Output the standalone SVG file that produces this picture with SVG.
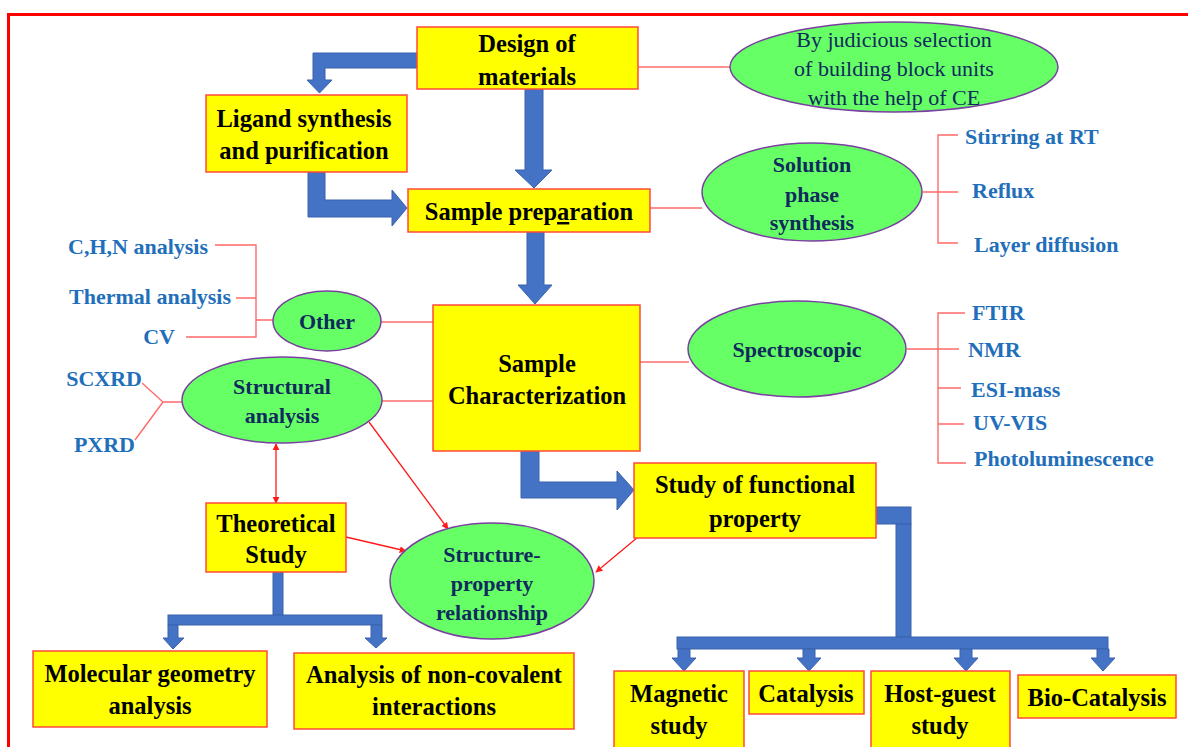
<svg xmlns="http://www.w3.org/2000/svg" width="1188" height="747" viewBox="0 0 1188 747">
<defs>
<style>
.box{fill:#ffff00;stroke:#ff4a3a;stroke-width:1.5}
.ell{fill:#66ff66;stroke:#7a3fa0;stroke-width:1.5}
.bt{font-family:"Liberation Serif",serif;font-weight:bold;font-size:24.5px;fill:#000;text-anchor:middle}
.et{font-family:"Liberation Serif",serif;font-weight:bold;font-size:22px;fill:#0f2a5c;text-anchor:middle}
.jt{font-family:"Liberation Serif",serif;font-size:22px;fill:#0f2a5c;text-anchor:middle}
.lt{font-family:"Liberation Serif",serif;font-weight:bold;font-size:22px;fill:#1f6fba}
.ln{fill:none;stroke:#ff6b6b;stroke-width:1.4}
.ra{fill:none;stroke:#ff1a1a;stroke-width:1.3}
.ba{fill:#4472c4;stroke:#3a62ad;stroke-width:1}
</style>
<marker id="ah" viewBox="0 0 10 10" refX="9" refY="5" markerWidth="7" markerHeight="7" orient="auto-start-reverse" markerUnits="userSpaceOnUse">
<path d="M0,0 L10,5 L0,10 z" fill="#ff1a1a"/>
</marker>
</defs>
<rect x="0" y="0" width="1188" height="747" fill="#fff"/>
<rect x="8.5" y="14.5" width="1200" height="800" fill="none" stroke="#ff0000" stroke-width="3"/>

<g id="connectors">
<polygon class="ba" points="417,53 313,53 313,80 307,80 319.5,93 332,80 325,80 325,68 417,68"/>
<polygon class="ba" points="308,172 325,172 325,200 392,200 392,190 407,208 392,226 392,217 308,217"/>
<polygon class="ba" points="525,89 543,89 543,170 552,170 534,188 515,170 525,170"/>
<polygon class="ba" points="527,232 544,232 544,285 552,285 535,304 518,285 527,285"/>
<polygon class="ba" points="521,451 539,451 539,482 617,482 617,471 634,490 617,510 617,498 521,498"/>
<rect class="ba" x="273" y="572" width="10" height="43"/>
<rect class="ba" x="168" y="615" width="214" height="10"/>
<polygon class="ba" points="168,625 178,625 178,638 184,638 173,649 163,638 168,638"/>
<polygon class="ba" points="371,625 382,625 382,638 387,638 376,648 365,638 371,638"/>
<rect class="ba" x="876" y="507" width="35" height="17"/>
<rect class="ba" x="896" y="524" width="15" height="113"/>
<rect class="ba" x="677" y="637" width="431" height="12"/>
<polygon class="ba" points="678,649 690,649 690,658 696,658 684,671 672,658 678,658"/>
<polygon class="ba" points="803,649 815,649 815,658 821,658 809,671 797,658 803,658"/>
<polygon class="ba" points="960,649 972,649 972,658 978,658 966,671 954,658 960,658"/>
<polygon class="ba" points="1097,649 1109,649 1109,658 1115,658 1103,671 1091,658 1097,658"/>
<line class="ln" x1="638" y1="67" x2="730" y2="67"/>
<line class="ln" x1="650" y1="208" x2="702" y2="208"/>
<path class="ln" d="M923,192 H938 M958,135 H938 V243 H958 M938,192 H958"/>
<line class="ln" x1="640" y1="362" x2="689" y2="362"/>
<path class="ln" d="M907,349 H959 M965,313 H938 V463 H966 M938,388 H961 M938,424 H964"/>
<path class="ln" d="M215,245 H256 V337 H186 M236,298 H256 M256,320 H273"/>
<line class="ln" x1="381" y1="322" x2="433" y2="322"/>
<path class="ln" d="M142,383 L163,402 L135,440 M163,402 H183"/>
<line class="ln" x1="382" y1="401" x2="433" y2="401"/>
<line class="ra" x1="276" y1="444" x2="276" y2="503" marker-start="url(#ah)" marker-end="url(#ah)"/>
<line class="ra" x1="346" y1="537" x2="406" y2="551" marker-end="url(#ah)"/>
<line class="ra" x1="369" y1="422" x2="448" y2="529" marker-end="url(#ah)"/>
<line class="ra" x1="644" y1="532" x2="596" y2="572" marker-end="url(#ah)"/>
</g>

<g id="design">
<rect class="box" x="417" y="27" width="221" height="62"/>
<text class="bt" x="527" y="52">Design of</text>
<text class="bt" x="527" y="85">materials</text>
</g>
<g id="judicious">
<ellipse class="ell" cx="894" cy="67" rx="164" ry="45"/>
<text class="jt" x="894" y="47">By judicious selection</text>
<text class="jt" x="894" y="76">of building block units</text>
<text class="jt" x="894" y="105">with the help of CE</text>
</g>
<g id="ligand">
<rect class="box" x="206" y="95" width="201" height="77"/>
<text class="bt" x="304" y="127">Ligand synthesis</text>
<text class="bt" x="304" y="159">and purification</text>
</g>
<g id="prep">
<rect class="box" x="408" y="189" width="242" height="43"/>
<text class="bt" x="529" y="220">Sample prep<tspan text-decoration="underline">a</tspan>ration</text>
</g>
<g id="solution">
<ellipse class="ell" cx="812" cy="192" rx="110" ry="49"/>
<text class="et" x="812" y="172">Solution</text>
<text class="et" x="812" y="202">phase</text>
<text class="et" x="812" y="230">synthesis</text>
</g>
<g id="sol-leaves">
<text class="lt" x="965" y="144">Stirring at RT</text>
<text class="lt" x="972" y="198">Reflux</text>
<text class="lt" x="974" y="252">Layer diffusion</text>
</g>
<g id="char">
<rect class="box" x="433" y="305" width="207" height="146"/>
<text class="bt" x="537" y="372">Sample</text>
<text class="bt" x="537" y="404">Characterization</text>
</g>
<g id="spectro">
<ellipse class="ell" cx="797" cy="349" rx="109" ry="48"/>
<text class="et" x="797" y="357">Spectroscopic</text>
</g>
<g id="spec-leaves">
<text class="lt" x="972" y="320">FTIR</text>
<text class="lt" x="968" y="357">NMR</text>
<text class="lt" x="971" y="397">ESI-mass</text>
<text class="lt" x="973" y="430">UV-VIS</text>
<text class="lt" x="974" y="466">Photoluminescence</text>
</g>
<g id="other">
<ellipse class="ell" cx="327" cy="321" rx="54" ry="30"/>
<text class="et" x="327" y="329">Other</text>
</g>
<g id="other-leaves">
<text class="lt" x="208" y="254" text-anchor="end">C,H,N analysis</text>
<text class="lt" x="231" y="304" text-anchor="end">Thermal analysis</text>
<text class="lt" x="175" y="344" text-anchor="end">CV</text>
</g>
<g id="structural">
<ellipse class="ell" cx="282" cy="400" rx="100" ry="43"/>
<text class="et" x="282" y="394">Structural</text>
<text class="et" x="282" y="423">analysis</text>
</g>
<g id="xrd-leaves">
<text class="lt" x="142" y="386" text-anchor="end">SCXRD</text>
<text class="lt" x="135" y="452" text-anchor="end">PXRD</text>
</g>
<g id="theoretical">
<rect class="box" x="206" y="503" width="140" height="69"/>
<text class="bt" x="276" y="532">Theoretical</text>
<text class="bt" x="276" y="563">Study</text>
</g>
<g id="structure-property">
<ellipse class="ell" cx="492" cy="581" rx="102" ry="58"/>
<text class="et" x="492" y="562">Structure-</text>
<text class="et" x="492" y="591">property</text>
<text class="et" x="492" y="620">relationship</text>
</g>
<g id="molecular">
<rect class="box" x="33" y="651" width="234" height="76"/>
<text class="bt" x="150" y="682">Molecular geometry</text>
<text class="bt" x="150" y="714">analysis</text>
</g>
<g id="noncovalent">
<rect class="box" x="294" y="653" width="280" height="76"/>
<text class="bt" x="434" y="683">Analysis of non-covalent</text>
<text class="bt" x="434" y="715">interactions</text>
</g>
<g id="functional">
<rect class="box" x="634" y="463" width="242" height="75"/>
<text class="bt" x="755" y="493">Study of functional</text>
<text class="bt" x="755" y="527">property</text>
</g>
<g id="magnetic">
<rect class="box" x="614" y="671" width="130" height="80"/>
<text class="bt" x="679" y="702">Magnetic</text>
<text class="bt" x="679" y="734">study</text>
</g>
<g id="catalysis">
<rect class="box" x="749" y="671" width="115" height="43"/>
<text class="bt" x="806" y="702">Catalysis</text>
</g>
<g id="hostguest">
<rect class="box" x="871" y="671" width="139" height="80"/>
<text class="bt" x="940" y="702">Host-guest</text>
<text class="bt" x="940" y="734">study</text>
</g>
<g id="biocatalysis">
<rect class="box" x="1018" y="675" width="158" height="43"/>
<text class="bt" x="1097" y="706">Bio-Catalysis</text>
</g>
</svg>
